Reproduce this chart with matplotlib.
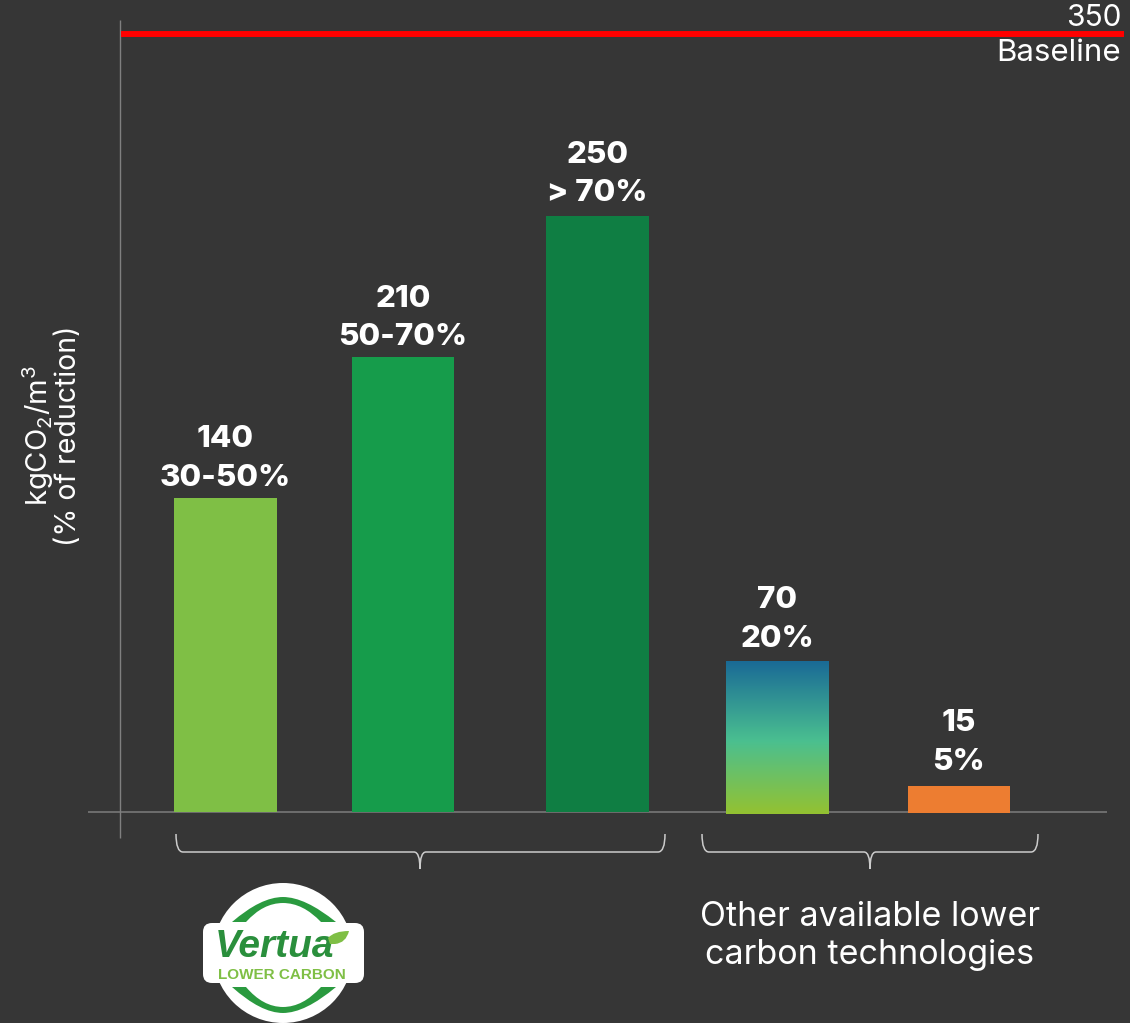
#!/usr/bin/env python3
"""Embodied carbon of lower carbon concrete technologies against the baseline"""

import matplotlib
matplotlib.use('Agg')
import matplotlib.pyplot as plt
import numpy as np
from matplotlib.colors import LinearSegmentedColormap
from matplotlib.patches import Circle, FancyBboxPatch, PathPatch
from matplotlib.path import Path

# 柱高按图上读取（原图柱子并未严格按数值比例绘制）
bar_heights = [141.4, 204.6, 268, 67.8, 12.2]
bar_values = ['140', '210', '250', '70', '15']
bar_reductions = ['30-50%', '50-70%', '> 70%', '20%', '5%']
bar_colors = ['#7fbf45', '#169c4b', '#0f7e43', None, '#ed7d31']
baseline_value = 350
baseline_label = 'Baseline'
gradient_colors = ['#1a6a96', '#4abf90', '#94c231']
other_label = 'Other available lower\ncarbon technologies'

BG = '#363636'
W, H = 1130, 1023
Y_ZERO = 812
Y_BASE = 34
PX_PER_UNIT = (Y_ZERO - Y_BASE) / baseline_value

plt.rcParams['font.family'] = ['Inter', 'DejaVu Sans']
plt.rcParams['mathtext.fontset'] = 'custom'
plt.rcParams['mathtext.rm'] = 'Inter'
plt.rcParams['mathtext.default'] = 'regular'


def draw_brace(ax, x0, x1, xm, y0, y1, tip):
    """底部花括号，两端向上，中间向下出尖"""
    verts = [(x0, y0), (x0, y1), (x0 + 7, y1),
             (xm - 6, y1), (xm, y1), (xm, tip),
             (xm, y1), (xm + 6, y1),
             (x1 - 7, y1), (x1, y1), (x1, y0)]
    codes = [Path.MOVETO, Path.CURVE3, Path.CURVE3,
             Path.LINETO, Path.CURVE3, Path.CURVE3,
             Path.CURVE3, Path.CURVE3,
             Path.LINETO, Path.CURVE3, Path.CURVE3]
    ax.add_patch(PathPatch(Path(verts, codes), fill=False, ec='#cccccc', lw=1.1))


def draw_arc(ax, cx, end_y, outer_y, inner_y):
    """标志上下的绿色弧，两端收成楔形"""
    verts = [(cx - 51, end_y), (cx - 22, outer_y), (cx, outer_y),
             (cx + 22, outer_y), (cx + 53, end_y),
             (cx + 38, end_y),
             (cx + 20, inner_y), (cx, inner_y),
             (cx - 20, inner_y), (cx - 37, end_y),
             (cx - 51, end_y)]
    codes = [Path.MOVETO, Path.CURVE3, Path.CURVE3,
             Path.CURVE3, Path.CURVE3,
             Path.LINETO,
             Path.CURVE3, Path.CURVE3,
             Path.CURVE3, Path.CURVE3,
             Path.CLOSEPOLY]
    ax.add_patch(PathPatch(Path(verts, codes), fc='#2a9a3f', ec='none', zorder=6))


def draw_logo(ax):
    """Vertua Lower Carbon 标志"""
    cx, cy = 283, 953
    ax.add_patch(Circle((cx, cy), 70, fc='white', ec='none', zorder=5))
    ax.add_patch(FancyBboxPatch((203, 923), 161, 60, boxstyle='round,pad=0,rounding_size=9',
                                fc='white', ec='none', zorder=5))
    draw_arc(ax, cx, 922, 897, 903)
    draw_arc(ax, cx, 987, 1013, 1007)
    ax.text(275, 947, 'Vertua', color='#2a8f3c', fontsize=28, fontweight='bold', style='italic',
            family=['Liberation Sans'], ha='center', va='center', zorder=7)
    # 叶子
    leaf = [(328, 938), (334, 931), (349, 931), (346, 943), (335, 944), (330, 944), (328, 938)]
    leaf_codes = [Path.MOVETO, Path.CURVE3, Path.CURVE3, Path.CURVE3, Path.CURVE3, Path.LINETO, Path.CLOSEPOLY]
    ax.add_patch(PathPatch(Path(leaf, leaf_codes), fc='#7fbf45', ec='none', zorder=7))
    ax.text(282, 975, 'LOWER CARBON', color='#7fbf45', fontsize=11, fontweight='bold',
            family=['Liberation Sans'], ha='center', va='center', zorder=7)


def main():
    bar_lefts = [174, 352, 546, 726, 908]
    bar_rights = [277, 454, 649, 829, 1010]
    centers = [(l + r) / 2 for l, r in zip(bar_lefts, bar_rights)]
    widths = [r - l for l, r in zip(bar_lefts, bar_rights)]

    fig = plt.figure(figsize=(W / 100, H / 100), dpi=100, facecolor=BG)

    # 数据坐标轴：y轴为kgCO2/m3，0在812px，350在34px
    ax = fig.add_axes([0, 0, 1, 1], facecolor=BG)
    ax.axis('off')

    ax.plot([88, 1107], [0, 0], color='#6e6e6e', lw=1.4, zorder=1, solid_capstyle='butt')
    ax.plot([120, 120], [(Y_ZERO - 838) / PX_PER_UNIT, (Y_ZERO - 20) / PX_PER_UNIT],
            color='#808080', lw=1.0, zorder=1, solid_capstyle='butt')
    ax.plot([121, 1124], [baseline_value, baseline_value], color='#ff0000', lw=4.3,
            zorder=3, solid_capstyle='butt')

    for i, height in enumerate(bar_heights):
        color = bar_colors[i]
        if color is None:
            # 渐变柱
            cmap = LinearSegmentedColormap.from_list('grad', [(0, gradient_colors[0]),
                                                              (0.52, gradient_colors[1]),
                                                              (1, gradient_colors[2])])
            grad = np.linspace(0, 1, 256).reshape(-1, 1)
            ax.imshow(grad, cmap=cmap, aspect='auto', zorder=2, interpolation='bilinear',
                      extent=[bar_lefts[i], bar_rights[i], -1, height])
        else:
            bottom = -0.4 if i == 4 else 0
            ax.bar(centers[i], height, width=widths[i], bottom=bottom, color=color, zorder=2)

    ax.set_xlim(0, W)
    ax.set_ylim((Y_ZERO - H) / PX_PER_UNIT, Y_ZERO / PX_PER_UNIT)

    # 像素坐标覆盖层：文字、括号、标志
    ov = fig.add_axes([0, 0, 1, 1], facecolor='none')
    ov.set_xlim(0, W)
    ov.set_ylim(H, 0)
    ov.axis('off')

    label_y = [(439, 478), (299, 337), (155, 193), (600, 639), (723, 762)]
    for i, (y1, y2) in enumerate(label_y):
        ov.text(centers[i], y1, bar_values[i], color='white', fontsize=22.5, fontweight=800,
                ha='center', va='center')
        ov.text(centers[i], y2, bar_reductions[i], color='white', fontsize=22.5, fontweight=800,
                ha='center', va='center')

    ov.text(1121, 18, str(baseline_value), color='white', fontsize=21.5, ha='right', va='center')
    ov.text(1121, 53, baseline_label, color='white', fontsize=22.5, ha='right', va='center')

    ov.text(38, 436, 'kgCO$_2$/m$^3$', color='white', fontsize=21, rotation=90, ha='center', va='center')
    ov.text(69, 436, '(% of reduction)', color='white', fontsize=20.5, rotation=90, ha='center', va='center')

    draw_brace(ov, 176, 665, 420, 834, 852, 869)
    draw_brace(ov, 702, 1038, 870, 834, 852, 869)

    ov.text(870, 936, other_label, color='white', fontsize=24.5, ha='center', va='center', linespacing=1.22)

    draw_logo(ov)

    fig.savefig('out.png', dpi=100, facecolor=BG)
    plt.close(fig)


if __name__ == "__main__":
    main()
